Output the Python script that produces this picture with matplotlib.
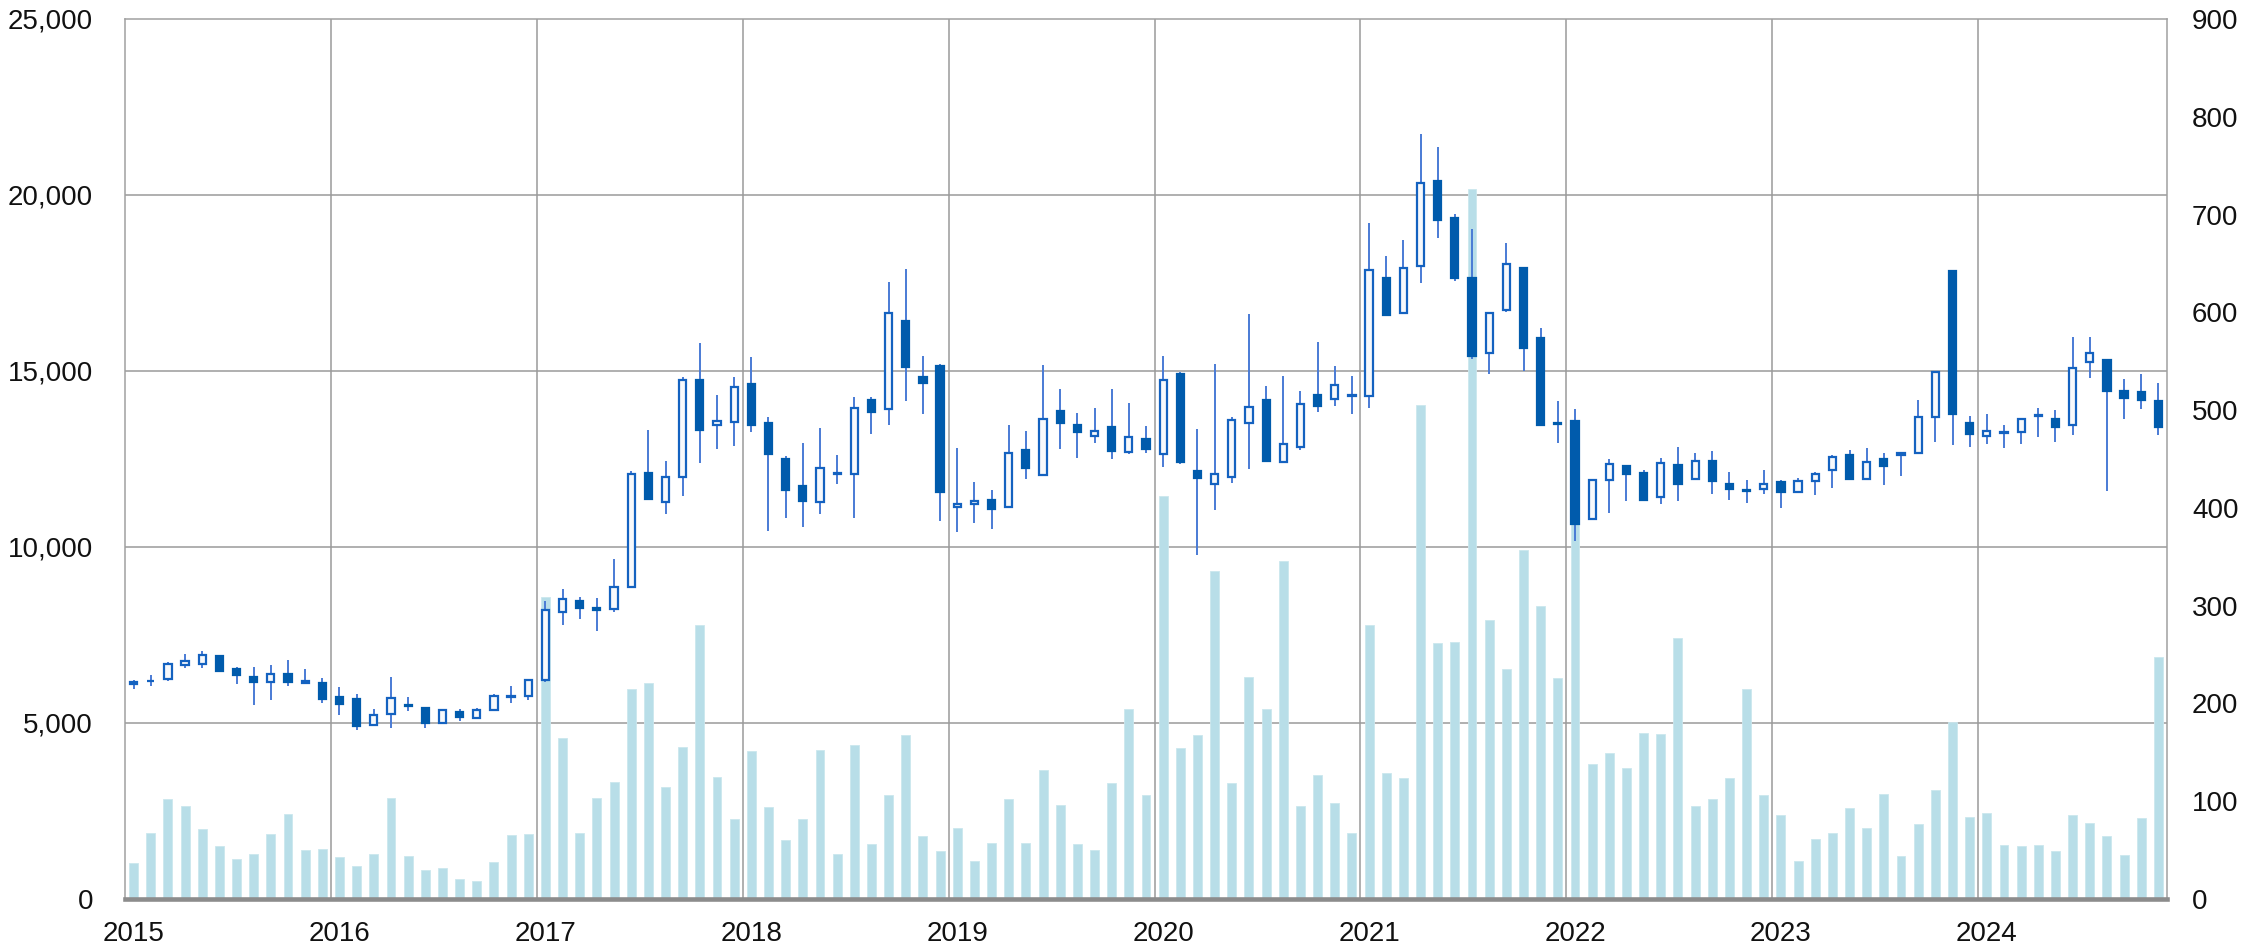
import numpy as np
import matplotlib.pyplot as plt
from matplotlib.ticker import MultipleLocator, FuncFormatter

plt.rcParams['font.family'] = ['Liberation Sans', 'DejaVu Sans']

# monthly candles, Jan 2015 .. Nov 2024
years = [2015, 2016, 2017, 2018, 2019, 2020, 2021, 2022, 2023, 2024]

opens = [
    6110, 6190, 6255, 6660, 6690, 6905, 6540, 6310, 6160, 6395, 6130, 6150,
    5725, 5680, 4955, 5255, 5510, 5425, 5000, 5310, 5150, 5375, 5740, 5755,
    6215, 8150, 8470, 8270, 8245, 8860, 12105, 11270, 11995, 14740, 13455, 13555,
    14640, 13525, 12510, 11745, 11270, 12080, 12075, 14180, 13930, 16425, 14835, 15155,
    11130, 11215, 11340, 11145, 12745, 12035, 13860, 13470, 13165, 13415, 12705, 13080,
    12635, 14920, 12145, 11800, 11995, 13510, 14165, 12425, 12845, 14305, 14195, 14290,
    14295, 17630, 16650, 17970, 20400, 19350, 17630, 15525, 16725, 17940, 15940, 13520,
    13570, 10785, 11910, 12295, 12090, 11425, 12325, 11940, 12445, 11795, 11630, 11660,
    11855, 11560, 11870, 12175, 12620, 11925, 12495, 12620, 12675, 13705, 17845, 13510,
    13165, 13250, 13275, 13720, 13650, 13455, 15265, 15310, 14445, 14405, 14140,
]
highs = [
    6215, 6350, 6725, 6970, 7045, 6910, 6605, 6585, 6640, 6790, 6530, 6275,
    6020, 5820, 5385, 6300, 5745, 5425, 5405, 5405, 5435, 5830, 6055, 6235,
    8470, 8820, 8580, 8555, 9665, 12160, 13330, 12440, 14835, 15795, 14305, 14835,
    15405, 13705, 12595, 12955, 13385, 12605, 14250, 14250, 17525, 17885, 15435, 15185,
    12800, 11840, 11630, 13470, 13290, 15170, 14500, 13805, 13960, 14500, 14095, 13430,
    15420, 14975, 13345, 15200, 13705, 16620, 14585, 14850, 14445, 15810, 15140, 14850,
    19200, 18265, 18725, 21720, 21350, 19450, 19020, 16680, 18635, 17945, 16210, 14150,
    13925, 11910, 12490, 12295, 12195, 12520, 12830, 12665, 12725, 12120, 11895, 12195,
    11900, 11965, 12135, 12600, 12760, 12800, 12665, 12680, 14165, 15005, 17845, 13720,
    13775, 13455, 13650, 13960, 13890, 15980, 15965, 15310, 14765, 14920, 14655,
]
lows = [
    5955, 6040, 6180, 6555, 6555, 6435, 6115, 5500, 5640, 6040, 6130, 5565,
    5225, 4810, 4955, 4870, 5340, 4870, 5000, 5055, 5150, 5340, 5565, 5640,
    6170, 7775, 7955, 7605, 8150, 8860, 11365, 10950, 11450, 12400, 12790, 12870,
    13260, 10450, 10810, 10560, 10950, 11800, 10810, 13205, 13470, 14155, 13790, 10725,
    10435, 10685, 10515, 11145, 11940, 12010, 12775, 12525, 12955, 12495, 12635, 12660,
    12260, 12355, 9765, 11060, 11825, 12215, 12455, 12425, 12745, 13845, 14015, 13790,
    13940, 16590, 16650, 17495, 18785, 17555, 15350, 14920, 16665, 15010, 13465, 12965,
    10165, 10785, 10980, 11305, 11305, 11230, 11305, 11940, 11510, 11335, 11245, 11510,
    11100, 11520, 11490, 11685, 11925, 11925, 11770, 12010, 12675, 12985, 12885, 12830,
    12915, 12800, 12940, 13120, 12985, 13190, 14805, 11590, 13650, 13915, 13190,
]
closes = [
    6175, 6205, 6680, 6755, 6925, 6480, 6350, 6160, 6385, 6160, 6200, 5690,
    5530, 4915, 5225, 5700, 5480, 5000, 5370, 5160, 5370, 5755, 5760, 6235,
    8220, 8510, 8275, 8210, 8860, 12065, 11365, 11995, 14740, 13330, 13580, 14545,
    13455, 12650, 11615, 11310, 12245, 12110, 13945, 13830, 16660, 15115, 14655, 11550,
    11215, 11295, 11090, 12675, 12245, 13625, 13525, 13260, 13305, 12730, 13120, 12775,
    14750, 12425, 11965, 12075, 13595, 13970, 12455, 12925, 14070, 14015, 14600, 14320,
    17865, 16595, 17940, 20340, 19290, 17645, 15425, 16635, 18030, 15660, 13480, 13490,
    10650, 11910, 12355, 12075, 11335, 12385, 11795, 12445, 11865, 11660, 11600, 11780,
    11550, 11870, 12065, 12565, 11925, 12410, 12315, 12660, 13680, 14960, 13775, 13220,
    13305, 13270, 13650, 13750, 13400, 15075, 15505, 14445, 14220, 14165, 13400,
]
volume = [
    37, 68, 102, 95, 72, 54, 41, 46, 66, 87, 50, 51,
    43, 34, 46, 103, 44, 30, 32, 20, 18, 38, 65, 66,
    309, 165, 68, 103, 120, 215, 221, 115, 155, 280, 125, 82,
    151, 94, 60, 82, 152, 46, 157, 56, 106, 168, 64, 49,
    73, 39, 57, 102, 57, 132, 96, 56, 50, 119, 194, 106,
    412, 154, 168, 335, 119, 227, 194, 346, 95, 127, 98, 67,
    280, 129, 124, 505, 262, 263, 726, 285, 235, 357, 300, 226,
    390, 138, 149, 134, 170, 169, 267, 95, 102, 124, 215, 106,
    86, 39, 61, 68, 93, 73, 107, 44, 77, 111, 181, 84,
    88, 55, 54, 55, 49, 86, 78, 64, 45, 83, 248,
]

o = np.array(opens)
h = np.array(highs)
l = np.array(lows)
c = np.array(closes)
x = np.arange(len(o))
up = c >= o

fig = plt.figure(figsize=(22.67, 9.46), dpi=100)
ax_vol = fig.add_axes([125 / 2267, 47 / 946, 2042 / 2267, 880 / 946])
ax = ax_vol.twinx()

# volume bars (right axis), grid lives here so the bars sit on top of it
ax_vol.bar(x, volume, width=0.52, color='#B8DEE8', edgecolor='#CBE7EE', linewidth=0.6, zorder=2)
ax_vol.set_ylim(0, 900)
ax_vol.set_xlim(-0.5, len(o) - 0.5)
ax_vol.yaxis.tick_right()
ax_vol.set_yticks(np.arange(0, 901, 100))
ax_vol.yaxis.set_minor_locator(MultipleLocator(180))
ax_vol.set_xticks([12 * i for i in range(len(years))])
ax_vol.set_xticklabels([str(y) for y in years])
ax_vol.set_xticks(np.arange(11.5, len(o) - 1, 12), minor=True)
ax_vol.set_axisbelow(True)
ax_vol.grid(which='minor', axis='both', color='#9A9A9A', linewidth=1.1)
ax_vol.grid(which='major', visible=False)
ax_vol.tick_params(axis='y', which='major', length=0, pad=18, labelsize=20, labelcolor='#111111')
ax_vol.tick_params(axis='x', which='major', length=0, pad=16, labelsize=20, labelcolor='#111111')
ax_vol.tick_params(which='minor', length=0)
for side in ['left', 'right', 'top']:
    ax_vol.spines[side].set_color('#A0A0A0')
    ax_vol.spines[side].set_linewidth(1.1)
ax_vol.spines['bottom'].set_color('#8C8C8C')
ax_vol.spines['bottom'].set_linewidth(3.3)

# candlesticks (left axis)
ax.set_zorder(ax_vol.get_zorder() + 1)
ax.patch.set_visible(False)
ax.vlines(x, l, h, color='#4A7BD5', linewidth=1.4, zorder=2)
body_lo = np.minimum(o, c)
body_h = np.abs(c - o)
ax.bar(x[up], body_h[up], bottom=body_lo[up], width=0.42,
       facecolor='#F7F9FC', edgecolor='#1462C0', linewidth=1.6, zorder=3)
ax.bar(x[~up], body_h[~up], bottom=body_lo[~up], width=0.42,
       facecolor='#005BAC', edgecolor='#005BAC', linewidth=1.6, zorder=3)
ax.set_ylim(0, 25000)
ax.yaxis.tick_left()
ax.set_yticks(np.arange(0, 25001, 5000))
ax.yaxis.set_major_formatter(FuncFormatter(lambda v, p: f'{int(v):,}'))
ax.tick_params(axis='y', length=0, pad=23, labelsize=20, labelcolor='#111111')
for s in ax.spines.values():
    s.set_visible(False)

fig.savefig('out.png', dpi=100)
